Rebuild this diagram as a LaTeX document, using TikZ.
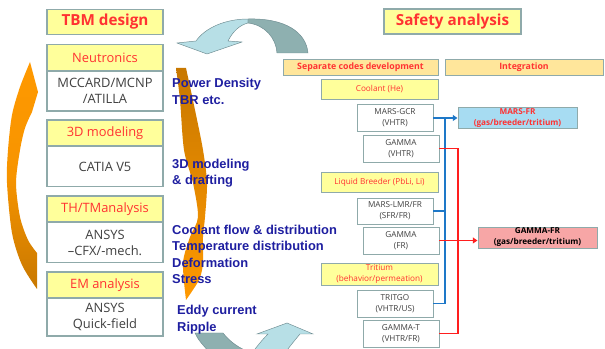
\documentclass[tikz,border=0pt]{standalone}
\usepackage{fontspec}
\setmainfont{Open Sans}
\newfontfamily\lblfont{Liberation Sans}
\usetikzlibrary{arrows.meta}
\definecolor{boxline}{RGB}{143,170,170}
\definecolor{hdrfill}{RGB}{255,255,155}
\definecolor{colfill}{RGB}{255,230,155}
\definecolor{hdrred}{RGB}{255,50,50}
\definecolor{codegray}{RGB}{64,64,64}
\definecolor{lblblue}{RGB}{30,30,160}
\definecolor{frblue}{RGB}{167,220,242}
\definecolor{frred}{RGB}{247,166,166}
\definecolor{linkblue}{RGB}{30,120,200}
\definecolor{linkred}{RGB}{255,30,30}
\definecolor{arrlight}{RGB}{183,223,230}
\definecolor{arrdark}{RGB}{142,176,176}
\definecolor{arrline}{RGB}{110,140,145}
\definecolor{orglight}{RGB}{255,153,0}
\definecolor{orgdark}{RGB}{200,120,0}

\begin{document}
\begin{tikzpicture}[x=0.03cm,y=-0.03cm,
	title/.style={draw=boxline,line width=1.2pt,fill=hdrfill,text=hdrred,inner sep=0pt,
		font=\fontsize{13}{15}\selectfont\bfseries,minimum height=0.75cm},
	part/.style={draw=boxline,line width=1.2pt,fill=hdrfill,text=hdrred,inner sep=0pt,
		font=\fontsize{11}{13.6}\selectfont,minimum width=3.48cm,minimum height=0.78cm},
	tool/.style={draw=boxline,line width=1.2pt,fill=white,text=codegray,inner sep=0pt,align=center,
		font=\fontsize{11}{13.6}\selectfont,minimum width=3.48cm,minimum height=1.2cm},
	lbl/.style={anchor=west,align=left,text=lblblue,inner sep=0pt,
		font=\lblfont\bfseries\fontsize{11}{14}\selectfont},
	colhead/.style={draw=boxline,line width=0.8pt,fill=colfill,text=hdrred,inner sep=0pt,
		font=\fontsize{7.5}{9}\selectfont\bfseries,minimum height=0.48cm},
	topic/.style={draw=boxline,line width=0.8pt,fill=hdrfill,text=hdrred,inner sep=0pt,align=center,
		font=\fontsize{7}{9.4}\selectfont,minimum width=3.51cm,minimum height=0.6cm},
	code/.style={draw=boxline,line width=0.8pt,fill=white,text=codegray,inner sep=0pt,align=center,
		font=\fontsize{7}{9.4}\selectfont,minimum width=2.28cm,minimum height=0.81cm},
	merged/.style={draw=boxline,line width=0.8pt,inner sep=0pt,align=center,
		font=\fontsize{7}{9.4}\selectfont\bfseries,minimum width=3.57cm,minimum height=0.63cm},
	bluelink/.style={draw=linkblue,line width=1pt},
	redlink/.style={draw=linkred,line width=1pt},
	>={Triangle[length=4pt,width=5pt]}]

	\useasboundingbox (0,0) rectangle (605,349);

	\begin{scope}
		\clip (0,0) rectangle (605,349);
		\fill[arrlight,draw=arrline,line width=0.4pt] (248,19) .. controls (225,19) and (205,28) .. (196,41)
			-- (177,43) -- (207,54) -- (242,42) -- (228,41) .. controls (233,31) and (240,25) .. (248,23) -- cycle;
		\fill[arrdark,draw=arrline,line width=0.4pt] (248,19) .. controls (285,18) and (306,32) .. (308,53)
			-- (277,53) .. controls (276,38) and (265,25) .. (248,23) -- cycle;
		\fill[arrdark,draw=arrline,line width=0.4pt] (195,333) -- (223,333) .. controls (230,342) and (240,349) .. (252,353)
			-- (210,353) .. controls (203,345) and (198,340) .. (195,333) -- cycle;
		\fill[arrlight,draw=arrline,line width=0.4pt] (252,353) .. controls (258,345) and (263,339) .. (268,334)
			-- (257,334) -- (287,323) -- (313,334) -- (300,334) .. controls (295,340) and (290,346) .. (285,353) -- cycle;
		\shade[top color=orglight,bottom color=orgdark,middle color=orglight!85!orgdark]
			plot[smooth] coordinates {(37,289) (22,265) (12,233) (7,183) (8,150) (12,115) (20,87) (30,62)}
			-- (38,92) -- (32,112)
			-- plot[smooth] coordinates {(32,112) (25,128) (20,150) (16,183) (20,217) (28,240) (37,253)} -- cycle;
		\shade[top color=orgdark,bottom color=orglight]
			plot[smooth] coordinates {(176,68) (180,100) (184,150) (193,183) (198,217) (190,237) (183,263) (186,300)}
			-- plot[smooth] coordinates {(186,300) (199,280) (203,263) (203,237) (205,217) (207,183) (203,150) (195,110) (186,68)}
			-- cycle;
	\end{scope}

	\node[title,minimum width=3.48cm] (tbm) at (105,22) {TBM design};
	\node[part] (neu) at (105,57.5) {Neutronics};
	\node[tool] (neucode) at (105,91) {MCCARD/MCNP\\/ATILLA};
	\node[part] (cad) at (105,133) {3D modeling};
	\node[tool] (cadcode) at (105,166.5) {CATIA V5};
	\node[part] (thm) at (105,209) {TH/TManalysis};
	\node[tool] (thmcode) at (105,242.5) {ANSYS\\--CFX/-mech.};
	\node[part] (ema) at (105,285) {EM analysis};
	\node[tool,minimum height=1.14cm] (emacode) at (105,317) {ANSYS\\Quick-field};

	\node[lbl] (neulbl) at (172,91.5) {Power Density\\TBR etc.};
	\node[lbl] (cadlbl) at (172,173) {3D modeling\\\& drafting};
	\node[lbl] (thmlbl) at (172,254.5) {Coolant flow \& distribution\\Temperature distribution\\Deformation\\Stress};
	\node[lbl] (emalbl) at (177,319.5) {Eddy current\\Ripple};

	\node[title,minimum width=4.11cm] (safety) at (452.5,21.5) {Safety analysis};
	\node[colhead,minimum width=4.65cm] (sepdev) at (360.5,67) {Separate codes development};
	\node[colhead,minimum width=4.74cm] (integ) at (524,67) {Integration};

	\node[topic] (coolant) at (379.5,89) {Coolant (He)};
	\node[code] (marsgcr) at (395,118) {MARS-GCR\\(VHTR)};
	\node[code] (gammav) at (401,148.5) {GAMMA\\(VHTR)};
	\node[topic] (breeder) at (379.5,182) {Liquid Breeder (PbLi, Li)};
	\node[code,minimum height=0.78cm] (marslmr) at (395,211) {MARS-LMR/FR\\(SFR/FR)};
	\node[code] (gammaf) at (401,240.5) {GAMMA\\(FR)};
	\node[topic,minimum height=0.66cm] (tritium) at (379.5,274) {Tritium\\(behavior/permeation)};
	\node[code] (tritgo) at (395,303.5) {TRITGO\\(VHTR/US)};
	\node[code] (gammat) at (401,333.5) {GAMMA-T\\(VHTR/FR)};

	\node[merged,fill=frblue,text=hdrred] (marsfr) at (517.5,118) {MARS-FR\\(gas/breeder/tritium)};
	\node[merged,fill=frred,text=black] (gammafr) at (537.5,237.5) {GAMMA-FR\\(gas/breeder/tritium)};

	\coordinate (bj) at (445,118);
	\coordinate (rj) at (458,148.5);

	\draw[bluelink,->] (marsgcr.east) -- (marsfr.west);
	\draw[bluelink] (marslmr.east) -| (bj);
	\draw[bluelink] (tritgo.east) -| (bj);
	\draw[redlink] (gammav.east) -- (rj);
	\draw[redlink] (gammat.east) -| (rj);
	\draw[redlink,->] (gammaf.east) -- (gammaf.east -| gammafr.west);
\end{tikzpicture}
\end{document}
